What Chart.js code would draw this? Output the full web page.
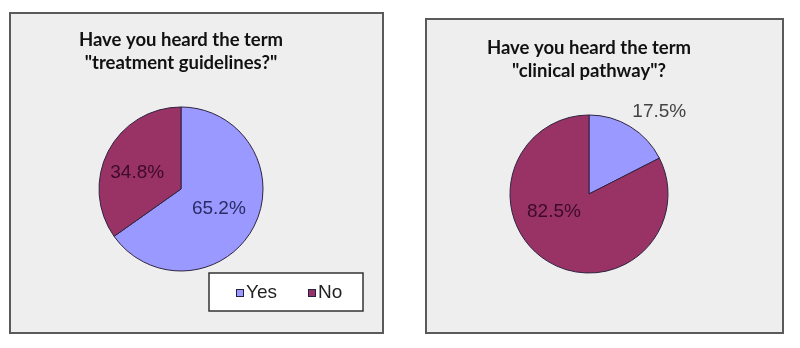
<!DOCTYPE html>
<html>
<head>
<meta charset="utf-8">
<script src="https://cdn.jsdelivr.net/npm/chart.js@4"></script>
<style>
  html, body { margin: 0; padding: 0; background: #ffffff; }
  body { width: 800px; height: 348px; position: relative; overflow: hidden; }
  .panel {
    position: absolute;
    background: #eeeeee;
    border: 2px solid #5a5a5a;
    box-sizing: border-box;
  }
  .panel canvas { display: block; }
</style>
</head>
<body>
<div class="panel" style="left:9px;top:12px;width:375px;height:322px;">
  <canvas id="c1" width="371" height="318"></canvas>
</div>
<div class="panel" style="left:425px;top:18px;width:359px;height:316px;">
  <canvas id="c2" width="355" height="312"></canvas>
</div>
<script>
// Answer categories and survey shares (percent)
const categories = ['Yes', 'No'];
const guidelinesValues = [65.2, 34.8];
const pathwayValues = [17.5, 82.5];
const guidelinesTitle = ['Have you heard the term', '"treatment guidelines?"'];
const pathwayTitle = ['Have you heard the term', '"clinical pathway"?'];

const sliceColors = ['#9999ff', '#993366'];

// Percentage labels placed along each slice's mid angle
const sliceLabels = {
  id: 'sliceLabels',
  afterDatasetsDraw(chart, args, opts) {
    const ctx = chart.ctx;
    const meta = chart.getDatasetMeta(0);
    const values = chart.data.datasets[0].data;
    ctx.save();
    ctx.font = '19px "Liberation Sans", Arial, sans-serif';
    ctx.textAlign = 'center';
    ctx.textBaseline = 'middle';
    meta.data.forEach((arc, i) => {
      const p = arc.getProps(['x', 'y', 'startAngle', 'endAngle', 'outerRadius'], true);
      const a = (p.startAngle + p.endAngle) / 2 + opts.angleShift[i] * Math.PI / 180;
      const r = p.outerRadius * opts.radiusFactor[i];
      ctx.fillStyle = opts.colors[i];
      ctx.fillText(values[i].toFixed(1) + '%', p.x + Math.cos(a) * r, p.y + Math.sin(a) * r);
    });
    ctx.restore();
  }
};

// Boxed legend drawn inside the plot panel
const boxLegend = {
  id: 'boxLegend',
  afterDraw(chart, args, opts) {
    if (!opts.show) return;
    const ctx = chart.ctx;
    const b = opts.box;
    ctx.save();
    ctx.fillStyle = '#ffffff';
    ctx.fillRect(b.x, b.y, b.w, b.h);
    ctx.strokeStyle = '#333333';
    ctx.lineWidth = 1.5;
    ctx.strokeRect(b.x, b.y, b.w, b.h);
    ctx.font = '19px "Liberation Sans", Arial, sans-serif';
    ctx.textBaseline = 'middle';
    ctx.textAlign = 'left';
    const cy = b.y + b.h / 2 + 1;
    chart.data.labels.forEach((lab, i) => {
      const x = opts.itemX[i];
      ctx.fillStyle = chart.data.datasets[0].backgroundColor[i];
      ctx.fillRect(x, cy - 4, 8, 8);
      ctx.strokeStyle = '#222244';
      ctx.lineWidth = 1;
      ctx.strokeRect(x + 0.5, cy - 3.5, 7, 7);
      ctx.fillStyle = '#222222';
      ctx.fillText(lab, x + 10, cy);
    });
    ctx.restore();
  }
};

function makePie(id, values, title, titlePad, radius, padding, labelOpts, legendOpts) {
  return new Chart(document.getElementById(id), {
    type: 'pie',
    data: {
      labels: categories,
      datasets: [{
        data: values,
        backgroundColor: sliceColors,
        borderColor: '#2e2340',
        borderWidth: 1,
        radius: radius
      }]
    },
    options: {
      responsive: false,
      animation: false,
      devicePixelRatio: 1,
      layout: { padding: padding },
      plugins: {
        legend: { display: false },
        tooltip: { enabled: false },
        title: {
          display: true,
          text: title,
          color: '#111111',
          font: { family: 'Lato, "Open Sans", sans-serif', size: 18.5, weight: 'bold', lineHeight: 1.243 },
          padding: titlePad
        },
        sliceLabels: labelOpts,
        boxLegend: legendOpts
      }
    },
    plugins: [sliceLabels, boxLegend]
  });
}

makePie('c1', guidelinesValues, guidelinesTitle, { top: 14.5, bottom: 9 }, 82,
  { left: 0, right: 31, top: 0, bottom: 37.5 },
  { angleShift: [0, -7], radiusFactor: [0.52, 0.57], colors: ['#2b2b66', '#3d0a28'] },
  { show: true, box: { x: 198, y: 259, w: 154, h: 38 }, itemX: [225, 297] });

makePie('c2', pathwayValues, pathwayTitle, { top: 16.5, bottom: 9 }, 79,
  { left: 0, right: 31, top: 0, bottom: 35.5 },
  { angleShift: [9, 31], radiusFactor: [1.37, 0.5], colors: ['#444444', '#3d0a28'] },
  { show: false });
</script>
</body>
</html>
